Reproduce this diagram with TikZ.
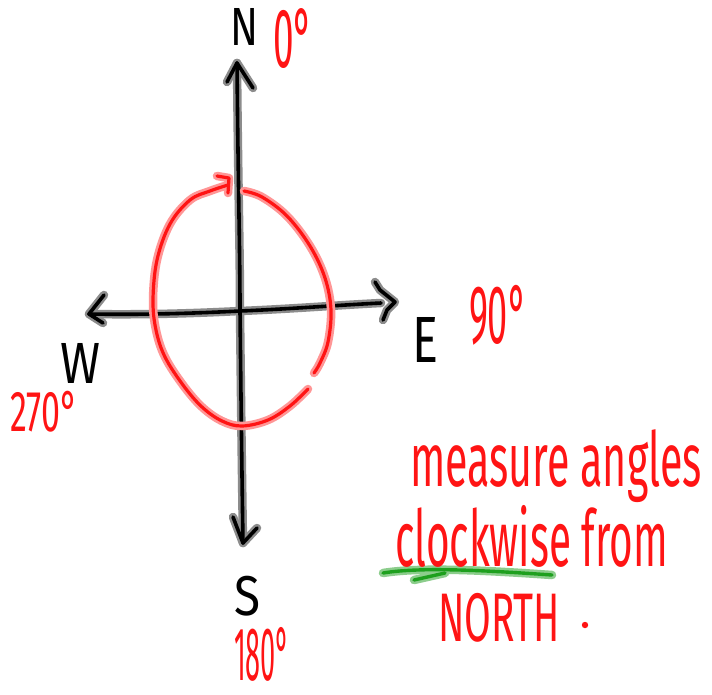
\documentclass[tikz,border=0pt]{standalone}
\usepackage{fontspec}
\setmainfont{Fira Sans}
\definecolor{inkred}{RGB}{255,20,20}
\definecolor{halored}{RGB}{255,150,150}
\definecolor{inkgreen}{RGB}{30,160,30}
\definecolor{halogreen}{RGB}{140,205,140}
\definecolor{halogray}{RGB}{140,140,140}
\tikzset{
  blk/.style={draw=black, line width=3.6pt, line cap=round, line join=round},
  blkhalo/.style={draw=halogray, line width=8.5pt, line cap=round, line join=round},
  red/.style={draw=inkred, line width=3.2pt, line cap=round, line join=round},
  redhalo/.style={draw=halored, line width=8.5pt, line cap=round, line join=round},
  grn/.style={draw=inkgreen, line width=3.4pt, line cap=round, line join=round},
  grnhalo/.style={draw=halogreen, line width=8.5pt, line cap=round, line join=round},
  lbl/.style={anchor=north west, inner sep=0pt, outer sep=0pt},
}
\newcommand{\fitbox}[3]{\resizebox*{#1}{#2}{#3}}
\begin{document}
\begin{tikzpicture}[x=1pt,y=-1pt]
\useasboundingbox (0,0) rectangle (712,694);
\fill[white] (0,0) rectangle (712,694);
% named points
\coordinate (ntip) at (237,63);
\coordinate (stip) at (243,543);
\coordinate (wtip) at (89,314);
\coordinate (etip) at (381,303);
\coordinate (c) at (240,311);
% axes
\foreach \s in {blkhalo,blk}{
  \draw[\s] (ntip) .. controls (238,180) and (240,250) .. (c) .. controls (241,400) and (242,480) .. (stip);
  \draw[\s] (wtip) .. controls (150,315) and (200,313) .. (c) .. controls (290,309) and (340,305) .. (etip);
  \draw[\s] (227,82) -- (ntip) -- (253,88);
  \draw[\s] (233,517) -- (stip) -- (257,528);
  \draw[\s] (104,295) -- (wtip) -- (103,323);
  \draw[\s] (375,282) -- (380,290) -- (395,302) -- (387,310) -- (383,320);
}
% red circle
\coordinate (rs) at (308,389);
\coordinate (re) at (228,185);
\coordinate (r2s) at (244,191);
\coordinate (r2e) at (314,373);
\foreach \s in {redhalo,red}{
  \draw[\s] plot[smooth, tension=0.6] coordinates {(rs) (290,406) (268,420) (242,426) (222,421) (202,407) (183,385) (165,357) (156,330) (153,300) (157,260) (170,224) (190,200) (210,191) (re)};
  \draw[\s] (217,176) -- (229,178) -- (228,193);
  \draw[\s] plot[smooth, tension=0.6] coordinates {(r2s) (262,197) (287,216) (310,246) (325,278) (331,310) (328,342) (320,363) (r2e)};
}
% green underline
\foreach \s in {grnhalo,grn}{
  \draw[\s] (383,573) .. controls (420,567) and (480,570) .. (552,575);
  \draw[\s] (414,580) -- (445,573);
}
% labels
\node[lbl] (N) at (230,8) {\fitbox{28pt}{37pt}{N}};
\node[lbl, text=inkred] (n0) at (273,8) {\fitbox{40pt}{60pt}{0°}};
\node[lbl] (E) at (412,317) {\fitbox{26pt}{45pt}{E}};
\node[lbl, text=inkred] (e90) at (469,285) {\fitbox{58pt}{60pt}{90°}};
\node[lbl] (W) at (60,343) {\fitbox{40pt}{40pt}{W}};
\node[lbl, text=inkred] (w270) at (10,391) {\fitbox{68pt}{41pt}{270°}};
\node[lbl] (S) at (234,576) {\fitbox{26pt}{40pt}{S}};
\node[lbl, text=inkred] (s180) at (234,627) {\fitbox{56pt}{54pt}{180°}};
\node[lbl, text=inkred] (t1) at (410,430) {\fitbox{292pt}{73pt}{measure angles}};
\node[lbl, text=inkred] (t2) at (395,505) {\fitbox{273pt}{62pt}{clockwise from}};
\node[lbl, text=inkred] (t3) at (438,593) {\fitbox{122pt}{49pt}{NORTH}};
\fill[inkred] (585,625) circle (3.2);
\end{tikzpicture}
\end{document}
